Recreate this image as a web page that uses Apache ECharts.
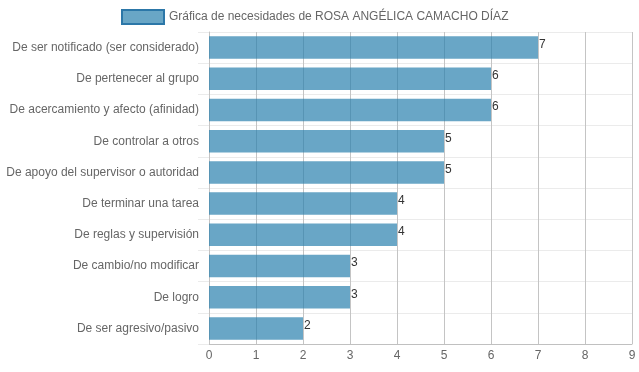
<!DOCTYPE html>
<html><head><meta charset="utf-8">
<script src="https://cdn.jsdelivr.net/npm/echarts@6/dist/echarts.min.js"></script>
<style>html,body{margin:0;padding:0;background:#fff}#c{width:639px;height:372px}</style>
</head><body><div id="c"></div>
<script>
const seriesName = 'Gráfica de necesidades de ROSA ANGÉLICA CAMACHO DÍAZ';
const categories = [
  'De ser notificado (ser considerado)',
  'De pertenecer al grupo',
  'De acercamiento y afecto (afinidad)',
  'De controlar a otros',
  'De apoyo del supervisor o autoridad',
  'De terminar una tarea',
  'De reglas y supervisión',
  'De cambio/no modificar',
  'De logro',
  'De ser agresivo/pasivo'
];
const values = [7, 6, 6, 5, 5, 4, 4, 3, 3, 2];
const xMin = 0, xMax = 9, xStep = 1;

const chart = echarts.init(document.getElementById('c'), null, {renderer: 'canvas'});
chart.setOption({
  animation: false,
  textStyle: {fontFamily: 'Liberation Sans, Arial, sans-serif'},
  legend: {
    top: 9, left: 121, padding: 0,
    icon: 'rect',
    itemWidth: 42, itemHeight: 14, itemGap: 8,
    textStyle: {color: '#666', fontSize: 12},
    data: [{name: seriesName, itemStyle: {color: 'rgba(42,128,174,0.7)', borderColor: '#2c77a8', borderWidth: 2}}]
  },
  grid: {left: 209, right: 7, top: 32, bottom: 28, containLabel: false},
  xAxis: {
    type: 'value', min: xMin, max: xMax, interval: xStep,
    axisLine: {show: true, lineStyle: {color: '#c0c0c0'}},
    axisTick: {show: false},
    axisLabel: {color: '#666', fontSize: 12, margin: 6},
    splitLine: {show: true, lineStyle: {color: '#c4c4c4', width: 1}}
  },
  yAxis: {
    type: 'category', data: categories, inverse: true,
    axisLine: {show: true, lineStyle: {color: '#c4c4c4'}},
    axisTick: {show: true, length: 11, lineStyle: {color: '#ebebeb'}},
    axisLabel: {color: '#666', fontSize: 12, margin: 10},
    splitLine: {show: true, lineStyle: {color: '#ebebeb', width: 1}}
  },
  series: [{
    name: seriesName, type: 'bar', data: values,
    barCategoryGap: '28%',
    itemStyle: {color: 'rgba(42,128,174,0.7)'},
    label: {show: true, position: 'right', distance: 1, offset: [0, -3], color: '#333', fontSize: 12, fontFamily: 'Liberation Sans, sans-serif'}
  }]
});
</script></body></html>
